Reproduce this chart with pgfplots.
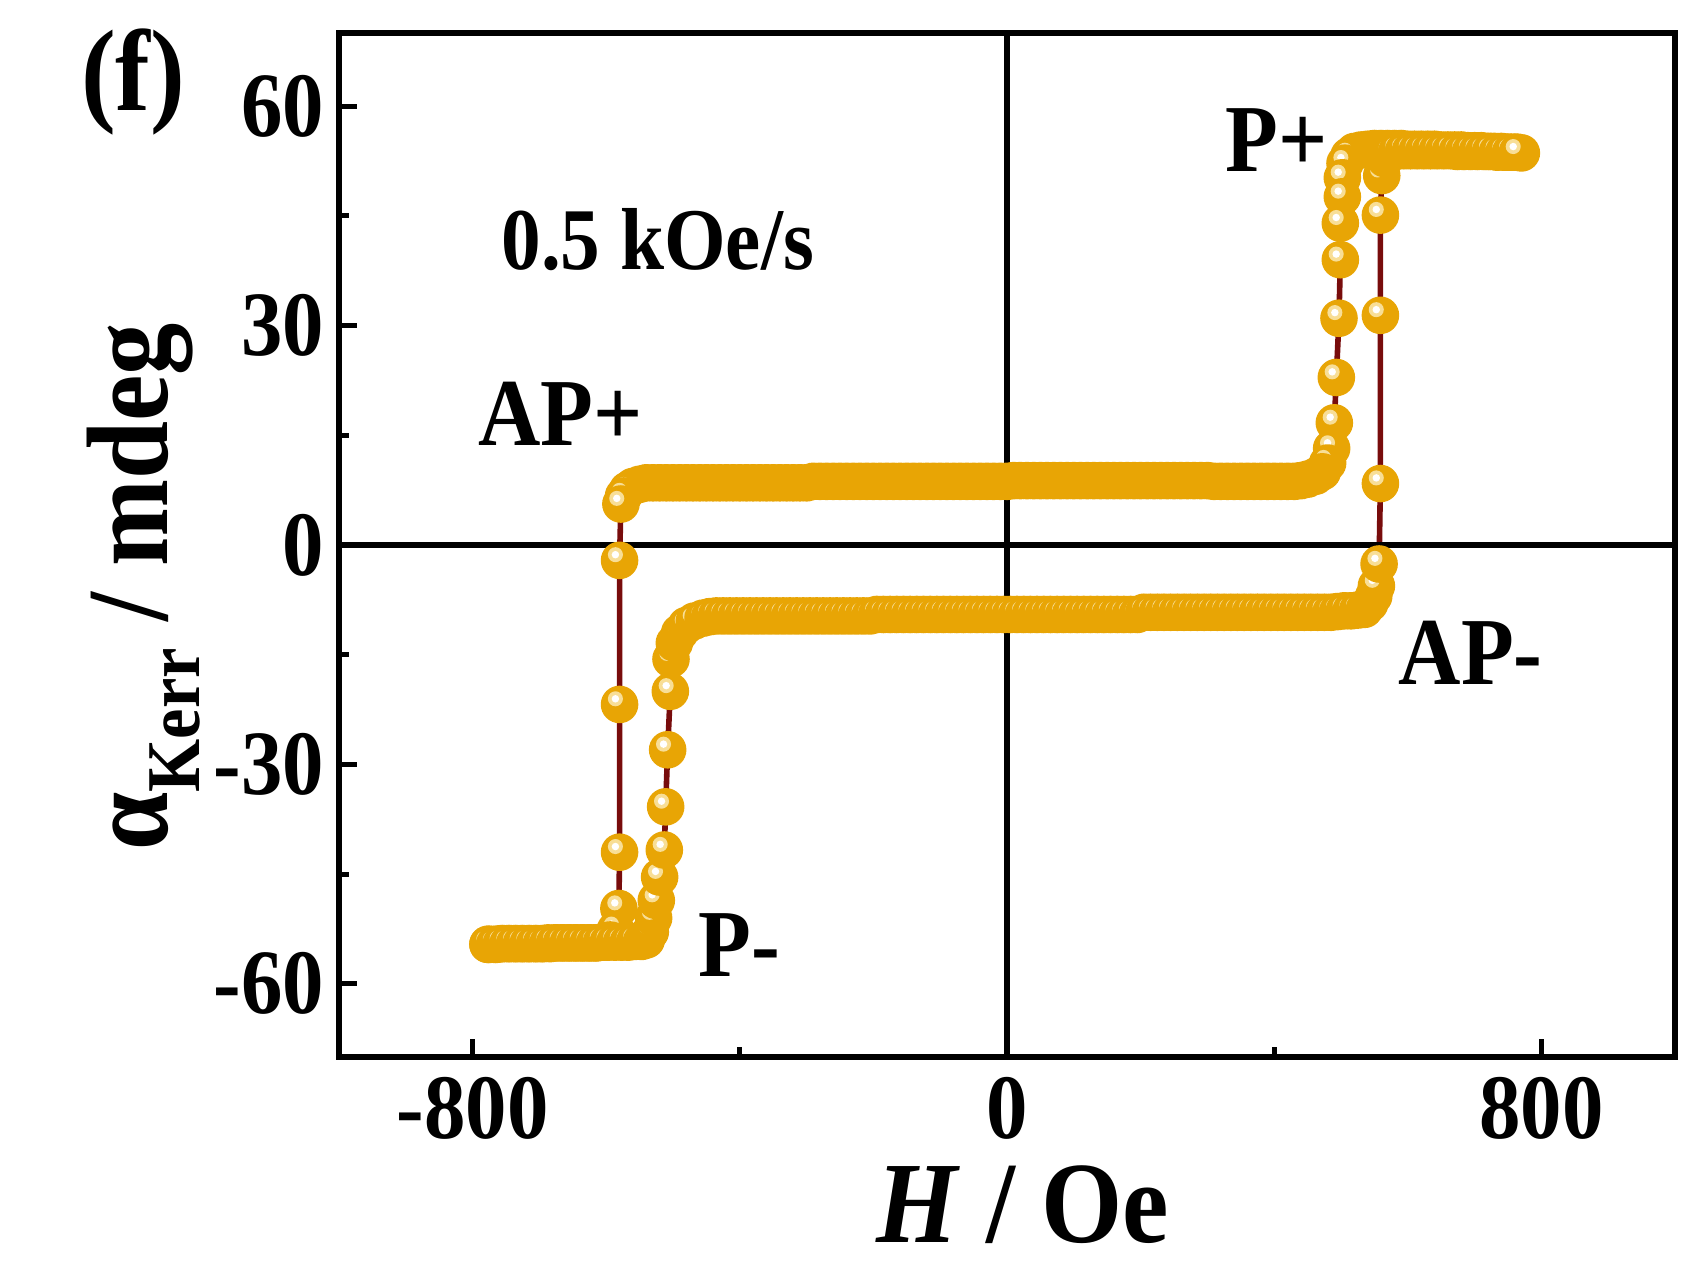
\documentclass[border=0pt]{standalone}
\usepackage{fontspec}
\setmainfont{Liberation Serif}[FakeStretch=0.9]
\usepackage{pgfplots}
\pgfplotsset{compat=1.18}
\usepackage{pgfplotstable}
\definecolor{kerr}{RGB}{232,165,5}
\definecolor{kerrhi}{RGB}{248,222,150}
\definecolor{kline}{RGB}{120,12,12}
\pgfdeclareplotmark{kball}{%
  \pgfsetfillcolor{kerr}%
  \pgfpathcircle{\pgfpointorigin}{\pgfplotmarksize}%
  \pgfusepathqfill
  \pgfsetfillcolor{kerrhi}%
  \pgfpathcircle{\pgfpoint{-0.22\pgfplotmarksize}{0.3\pgfplotmarksize}}{0.4\pgfplotmarksize}%
  \pgfusepathqfill
  \pgfsetfillcolor{white}%
  \pgfpathcircle{\pgfpoint{-0.22\pgfplotmarksize}{0.3\pgfplotmarksize}}{0.2\pgfplotmarksize}%
  \pgfusepathqfill
}
\newcommand{\fs}[1]{\fontsize{#1}{#1}\selectfont\bfseries}

% descending branch (+H -> -H)
\pgfplotstableread[row sep=\\]{
h k\\
770 53.6\\ 760 53.7\\ 750 53.7\\ 740 53.8\\ 730 53.8\\ 720 53.8\\ 710 53.9\\ 700 53.9\\ 690 53.9\\ 680 54.0\\
670 54.0\\ 660 54.0\\ 650 54.0\\ 640 54.1\\ 630 54.1\\ 620 54.1\\ 610 54.1\\ 600 54.1\\ 590 54.2\\ 580 54.2\\
570 54.2\\ 560 54.2\\ 550 54.2\\ 540 54.1\\ 530 54.0\\ 520 53.8\\ 512 53.2\\ 506 52.2\\ 502 50.2\\ 502 47.6\\
499 44.0\\ 499 39.0\\ 497 31.0\\ 493 22.9\\ 490 16.7\\ 486 13.2\\ 480 11.2\\ 472 10.0\\ 462 9.4\\ 450 9.0\\ 440 8.8\\
430 8.7\\ 420 8.7\\ 410 8.7\\ 400 8.7\\ 390 8.7\\ 380 8.7\\ 370 8.7\\ 360 8.7\\ 350 8.7\\ 340 8.7\\
330 8.7\\ 320 8.7\\ 310 8.7\\ 300 8.8\\ 290 8.8\\ 280 8.8\\ 270 8.8\\ 260 8.8\\ 250 8.8\\ 240 8.8\\
230 8.8\\ 220 8.8\\ 210 8.8\\ 200 8.8\\ 190 8.8\\ 180 8.8\\ 170 8.8\\ 160 8.8\\ 150 8.8\\ 140 8.8\\
130 8.8\\ 120 8.8\\ 110 8.8\\ 100 8.8\\ 90 8.8\\ 80 8.8\\ 70 8.8\\ 60 8.8\\ 50 8.8\\ 40 8.8\\
30 8.8\\ 20 8.8\\ 10 8.8\\ 0 8.7\\ -10 8.7\\ -20 8.7\\ -30 8.7\\ -40 8.7\\ -50 8.7\\ -60 8.7\\
-70 8.7\\ -80 8.7\\ -90 8.7\\ -100 8.7\\ -110 8.7\\ -120 8.7\\ -130 8.7\\ -140 8.7\\ -150 8.7\\ -160 8.7\\
-170 8.7\\ -180 8.7\\ -190 8.7\\ -200 8.7\\ -210 8.7\\ -220 8.7\\ -230 8.7\\ -240 8.7\\ -250 8.7\\ -260 8.7\\
-270 8.7\\ -280 8.7\\ -290 8.7\\ -300 8.5\\ -310 8.5\\ -320 8.5\\ -330 8.5\\ -340 8.5\\ -350 8.5\\ -360 8.5\\
-370 8.5\\ -380 8.5\\ -390 8.5\\ -400 8.5\\ -410 8.5\\ -420 8.5\\ -430 8.5\\ -440 8.5\\ -450 8.5\\ -460 8.5\\
-470 8.5\\ -480 8.5\\ -490 8.5\\ -500 8.5\\ -510 8.5\\ -520 8.5\\ -530 8.5\\ -540 8.5\\
-550 8.3\\ -560 8.0\\ -568 7.5\\ -574 6.7\\ -578 5.6\\ -580 -2.1\\ -580 -21.8\\ -580 -42.0\\ -581 -49.7\\
-586 -52.6\\ -594 -54.0\\ -604 -54.3\\ -614 -54.4\\ -624 -54.4\\ -634 -54.4\\ -644 -54.4\\ -654 -54.4\\
-664 -54.4\\ -674 -54.4\\ -684 -54.5\\ -694 -54.5\\ -704 -54.5\\ -714 -54.5\\ -724 -54.5\\ -734 -54.5\\
-744 -54.5\\ -754 -54.5\\ -764 -54.6\\ -774 -54.6\\ -777 -54.6\\
}\dataA

% ascending branch (-H -> +H)
\pgfplotstableread[row sep=\\]{
h k\\
-777 -54.6\\ -767 -54.6\\ -757 -54.5\\ -747 -54.5\\ -737 -54.5\\ -727 -54.5\\ -717 -54.5\\ -707 -54.5\\
-697 -54.5\\ -687 -54.4\\ -677 -54.4\\ -667 -54.4\\ -657 -54.4\\ -647 -54.4\\ -637 -54.4\\ -627 -54.4\\
-617 -54.4\\ -607 -54.3\\ -597 -54.3\\ -587 -54.3\\ -577 -54.3\\ -567 -54.3\\ -557 -54.2\\ -547 -54.2\\
-540 -54.0\\ -534 -52.9\\ -529 -51.0\\ -525 -48.6\\ -520 -45.4\\ -513 -41.7\\ -511 -35.8\\ -508 -28.0\\
-504 -20.0\\ -503 -15.6\\ -498 -13.4\\ -490 -12.0\\ -480 -11.0\\ -468 -10.4\\ -455 -10.0\\ -445 -9.8\\
-435 -9.7\\ -425 -9.7\\ -415 -9.7\\ -405 -9.7\\ -395 -9.7\\ -385 -9.7\\ -375 -9.7\\ -365 -9.7\\ -355 -9.7\\
-345 -9.7\\ -335 -9.7\\ -325 -9.7\\ -315 -9.7\\ -305 -9.7\\ -295 -9.7\\ -285 -9.7\\ -275 -9.7\\ -265 -9.7\\
-255 -9.7\\ -245 -9.7\\ -235 -9.7\\ -225 -9.7\\ -215 -9.7\\ -205 -9.7\\ -195 -9.5\\ -185 -9.5\\ -175 -9.5\\
-165 -9.5\\ -155 -9.5\\ -145 -9.5\\ -135 -9.5\\ -125 -9.5\\ -115 -9.5\\ -105 -9.5\\ -95 -9.5\\ -85 -9.5\\
-75 -9.5\\ -65 -9.5\\ -55 -9.5\\ -45 -9.5\\ -35 -9.5\\ -25 -9.5\\ -15 -9.5\\ -5 -9.5\\ 5 -9.5\\ 15 -9.5\\
25 -9.5\\ 35 -9.5\\ 45 -9.5\\ 55 -9.5\\ 65 -9.5\\ 75 -9.5\\ 85 -9.5\\ 95 -9.5\\ 105 -9.5\\ 115 -9.5\\
125 -9.5\\ 135 -9.5\\ 145 -9.5\\ 155 -9.5\\ 165 -9.5\\ 175 -9.5\\ 185 -9.5\\ 195 -9.5\\ 205 -9.2\\
215 -9.2\\ 225 -9.2\\ 235 -9.2\\ 245 -9.2\\ 255 -9.2\\ 265 -9.2\\ 275 -9.2\\ 285 -9.2\\ 295 -9.2\\
305 -9.2\\ 315 -9.2\\ 325 -9.2\\ 335 -9.2\\ 345 -9.2\\ 355 -9.2\\ 365 -9.2\\ 375 -9.2\\ 385 -9.2\\
395 -9.2\\ 405 -9.2\\ 415 -9.2\\ 425 -9.2\\ 435 -9.2\\ 445 -9.2\\ 455 -9.2\\ 465 -9.2\\ 475 -9.2\\
485 -9.2\\ 495 -9.1\\ 505 -9.0\\ 515 -9.0\\ 525 -8.9\\ 535 -8.8\\ 543 -8.0\\ 549 -7.0\\ 553 -5.6\\ 557 -2.6\\
559 8.4\\ 559 31.4\\ 559 45.1\\ 561 50.5\\ 566 52.8\\ 574 53.6\\ 584 53.9\\ 594 53.9\\ 604 53.9\\ 614 53.9\\
624 53.9\\ 634 53.9\\ 644 53.9\\ 654 53.9\\ 664 53.9\\ 674 53.8\\ 684 53.8\\ 694 53.8\\ 704 53.8\\ 714 53.8\\
724 53.8\\ 734 53.7\\ 744 53.7\\ 754 53.7\\ 764 53.7\\
}\dataB

\begin{document}
\begin{tikzpicture}
\path[use as bounding box] (0,0) rectangle (426.25pt,315.75pt);
\begin{axis}[
  at={(84.75pt,51.5pt)}, anchor=south west,
  width=334pt, height=256pt, scale only axis,
  xmin=-1000, xmax=1000, ymin=-70, ymax=70,
  axis line style={line width=1.3pt},
  xtick={-800,0,800}, xticklabels={-800,0,800},
  ytick={-60,-30,0,30,60}, yticklabels={-60,-30,0,30,60},
  minor xtick={-400,400}, minor ytick={-45,-15,15,45},
  xtick pos=bottom, ytick pos=left,
  tick align=inside,
  major tick length=4.5pt, minor tick length=2.5pt,
  every tick/.style={line width=1.2pt, black},
  ticklabel style={font=\fs{23}},
  xticklabel style={inner sep=0pt, yshift=-5pt},
  yticklabel style={inner sep=0pt, xshift=-3.5pt},
  xlabel={\textit{H} / Oe},
  ylabel={α\raisebox{-8pt}{\fontsize{19}{19}\selectfont Kerr} / mdeg},
  label style={font=\fs{29}, inner sep=0pt},
  xlabel style={at={(axis description cs:0.512,-0.144)}, anchor=center},
  ylabel style={at={(axis description cs:-0.146,0.459)}, anchor=center},
  clip=false,
]
\addplot[kline, line width=1.4pt, mark=none] table[x=h,y=k] {\dataA};
\addplot[kline, line width=1.4pt, mark=none] table[x=h,y=k] {\dataB};
\draw[black, line width=1.3pt] (axis cs:0,-70) -- (axis cs:0,70);
\draw[black, line width=1.3pt] (axis cs:-1000,0) -- (axis cs:1000,0);
\addplot[only marks, mark=kball, mark size=4.7pt] table[x=h,y=k] {\dataA};
\addplot[only marks, mark=kball, mark size=4.7pt] table[x=h,y=k] {\dataB};
\node[font=\fs{29}] at (axis description cs:-0.154,0.952) {(f)};
\node[font=\fs{22}] at (axis cs:-523,41.7) {0.5 kOe/s};
\node[font=\fs{24}] at (axis cs:-668,18.0) {AP+};
\node[font=\fs{24}] at (axis cs:404,55.3) {P+};
\node[font=\fs{24}] at (axis cs:694,-14.8) {AP-};
\node[font=\fs{24}] at (axis cs:-401,-54.7) {P-};
\end{axis}
\end{tikzpicture}
\end{document}
